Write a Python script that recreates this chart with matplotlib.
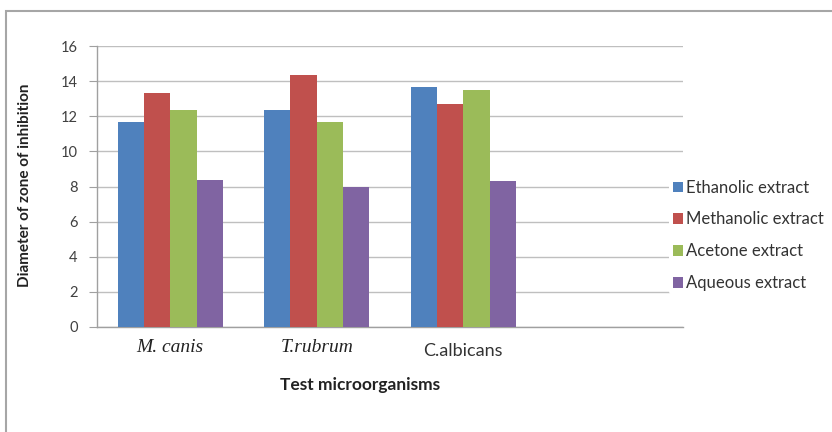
import matplotlib as mpl
mpl.use('Agg')
import matplotlib.pyplot as plt
import matplotlib.patches as patches
import matplotlib.transforms as mtrans
import numpy as np

#
#--- zone of inhibition (mm) for each extract against each organism
#
organisms = ['M. canis', 'T.rubrum', 'C.albicans']
extracts  = ['Ethanolic extract', 'Methanolic extract', 'Acetone extract', 'Aqueous extract']
ethanolic  = [11.67, 12.33, 13.67]
methanolic = [13.33, 14.33, 12.67]
acetone    = [12.33, 11.67, 13.5]
aqueous    = [8.37, 8.0, 8.33]
y_ticks    = [0, 2, 4, 6, 8, 10, 12, 14, 16]

c_list = ['#4F81BD', '#C0504D', '#9BBB59', '#8064A2']
grid_c = '#BFBFBF'

fig = plt.figure(figsize=(8.32, 4.32), dpi=100)
#
#--- outer chart frame (runs off right and bottom edges)
#
fig.patches.append(patches.Rectangle((6 / 832, -0.1), 1.0, 1 - 11 / 432 + 0.1,
                                     transform=fig.transFigure, fill=False,
                                     edgecolor='#A6A6A6', lw=1.5))

ax = fig.add_axes([97 / 832, 1 - 327 / 432, 586 / 832, 281 / 432])
ax.set_xlim(-0.5, 3.5)
ax.set_ylim(0, 16)
ax.set_yticks(y_ticks)
ax.yaxis.grid(True, color=grid_c, lw=1.0)
ax.set_axisbelow(True)

for side in ['top', 'right']:
    ax.spines[side].set_visible(False)
for side in ['left', 'bottom']:
    ax.spines[side].set_color('#A0A0A0')
    ax.spines[side].set_linewidth(1.0)

#
#--- grouped bars
#
x  = np.arange(len(organisms))
bw = 0.18
series = [ethanolic, methanolic, acetone, aqueous]
for k, vals in enumerate(series):
    ax.bar(x + (k - 1.5) * bw, vals, width=bw, color=c_list[k], label=extracts[k],
           edgecolor='none', zorder=3)

#
#--- axis ticks and labels
#
ax.tick_params(axis='y', length=6, color='#A0A0A0', labelsize=10.5, pad=8,
               labelcolor='#404040')
for lab in ax.get_yticklabels():
    lab.set_fontfamily('Lato')

ax.set_xticks(x)
ax.set_xticklabels(organisms)
ax.tick_params(axis='x', length=0, pad=9)
tl = ax.get_xticklabels()
for lab in tl[:2]:
    lab.set_fontfamily('Liberation Serif')
    lab.set_fontstyle('italic')
    lab.set_fontsize(14)
    lab.set_color('#222222')
tl[2].set_fontfamily('Lato')
tl[2].set_fontsize(13)
tl[2].set_color('#333333')
tl[2].set_transform(tl[2].get_transform() + mtrans.ScaledTranslation(0, -4 / 100, fig.dpi_scale_trans))

fig.text(360 / 832, 1 - 385 / 432, 'Test microorganisms', ha='center', va='center',
         fontsize=12.5, fontweight='bold', family='Lato', color='#222222')
fig.text(25 / 832, 1 - 185 / 432, 'Diameter of zone of inhibition', ha='center', va='center',
         rotation=90, fontsize=11, fontweight='bold', family='Lato', color='#222222')

#
#--- legend on the right
#
leg = fig.legend(loc='upper left', bbox_to_anchor=(661 / 832, 1 - 168 / 432),
                 frameon=True, handlelength=0.6, handleheight=0.6,
                 handletextpad=0.2, labelspacing=0.95, borderpad=0.2,
                 prop={'family': 'Lato', 'size': 12})
leg.get_frame().set_edgecolor('none')
leg.get_frame().set_facecolor('white')
leg.get_frame().set_alpha(1.0)
for t in leg.get_texts():
    t.set_color('#333333')

plt.savefig('out.png', dpi=100)
plt.close('all')
